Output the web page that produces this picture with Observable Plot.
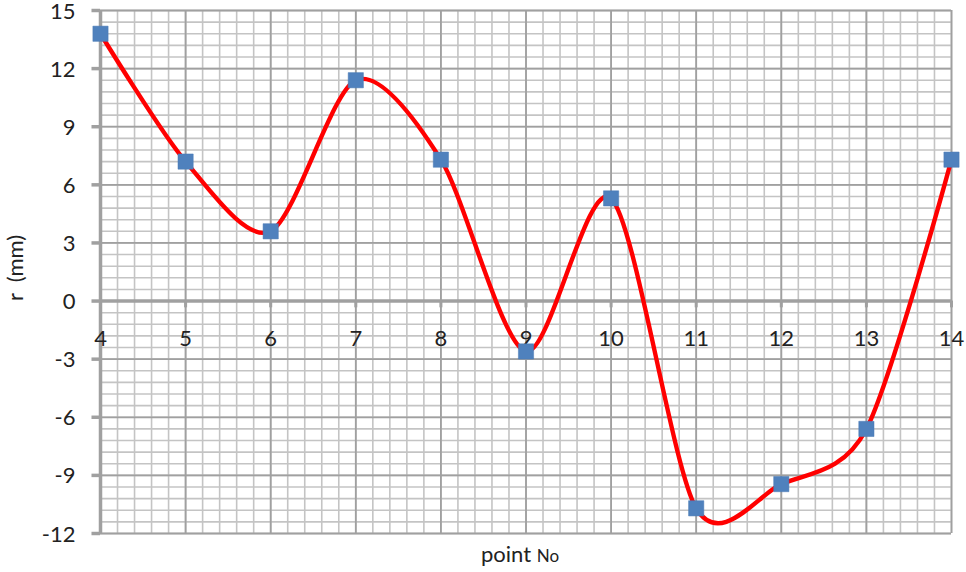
<!DOCTYPE html>
<html>
<head>
<meta charset="utf-8">
<script src="https://cdn.jsdelivr.net/npm/d3@7"></script>
<script src="https://cdn.jsdelivr.net/npm/@observablehq/plot@0.6"></script>
<style>
  html, body { margin: 0; padding: 0; background: #fff; }
  #chart { width: 966px; height: 572px; }
  svg { display: block; }
</style>
</head>
<body>
<div id="chart"></div>
<script>
const points = [4, 5, 6, 7, 8, 9, 10, 11, 12, 13, 14];
const rValues = [13.8, 7.2, 3.6, 11.4, 7.3, -2.6, 5.3, -10.7, -9.45, -6.6, 7.3];
const yTicks = [-12, -9, -6, -3, 0, 3, 6, 9, 12, 15];
const xTicks = [4, 5, 6, 7, 8, 9, 10, 11, 12, 13, 14];

const data = points.map((p, i) => ({x: p, y: rValues[i]}));
const xMinor = d3.range(4, 14.0001, 0.2).map(v => +v.toFixed(2));
const yMinor = d3.range(-12, 15.0001, 0.6).map(v => +v.toFixed(2));

const font = "Lato, 'Open Sans', sans-serif";

const chart = Plot.plot({
  width: 966,
  height: 572,
  marginLeft: 100,
  marginRight: 15,
  marginTop: 10,
  marginBottom: 39,
  style: {fontFamily: font, background: "#fff", overflow: "visible"},
  x: {type: "linear", domain: [4, 14], axis: null},
  y: {type: "linear", domain: [-12, 15], axis: null},
  marks: [
    Plot.ruleX(xMinor, {stroke: "#c4c4c4", strokeWidth: 1.6}),
    Plot.ruleY(yMinor, {stroke: "#c4c4c4", strokeWidth: 1.6}),
    Plot.ruleX(xTicks, {stroke: "#a0a0a0", strokeWidth: 1.8}),
    Plot.ruleY(yTicks, {stroke: "#a0a0a0", strokeWidth: 1.8}),
    // axis lines
    Plot.ruleX([4], {stroke: "#a0a0a0", strokeWidth: 3.5}),
    Plot.ruleY([0], {stroke: "#a0a0a0", strokeWidth: 3.5}),
    // y tick marks (short stubs left of the axis)
    Plot.ruleY(yTicks, {x1: 3.9, x2: 4, stroke: "#a0a0a0", strokeWidth: 3.5}),
    Plot.text(yTicks, {x: 4, y: d => d, text: d => String(d), textAnchor: "end", dx: -25, dy: 1, fontSize: 22, fill: "#222"}),
    // x tick marks (short stubs below zero line)
    Plot.ruleX(xTicks, {y1: 0, y2: -0.35, stroke: "#a0a0a0", strokeWidth: 3}),
    Plot.text(xTicks, {x: d => d, y: 0, text: d => String(d), dy: 38, fontSize: 22, fill: "#222"}),
    // series
    Plot.line(data, {x: "x", y: "y", curve: "cardinal", tension: 0.15, stroke: "#ff0000", strokeWidth: 4.4}),
    Plot.dot(data, {x: "x", y: "y", symbol: "square", r: 8.6, fill: "#4f81bd", stroke: "#4a7ab5", strokeWidth: 0.5})
  ]
});

// Axis titles
const svg = d3.select(chart);
svg.append("text")
  .attr("transform", "translate(23,268) rotate(-90)")
  .attr("text-anchor", "middle")
  .attr("font-family", font)
  .attr("font-size", 22)
  .attr("fill", "#222")
  .attr("xml:space", "preserve")
  .text("r  (mm)");

const xt = svg.append("text")
  .attr("x", 520)
  .attr("y", 562)
  .attr("text-anchor", "middle")
  .attr("font-family", font)
  .attr("font-size", 22)
  .attr("fill", "#222");
xt.append("tspan").text("point ");
xt.append("tspan").attr("font-size", 17).text("No");

document.getElementById("chart").appendChild(chart);
</script>
</body>
</html>
